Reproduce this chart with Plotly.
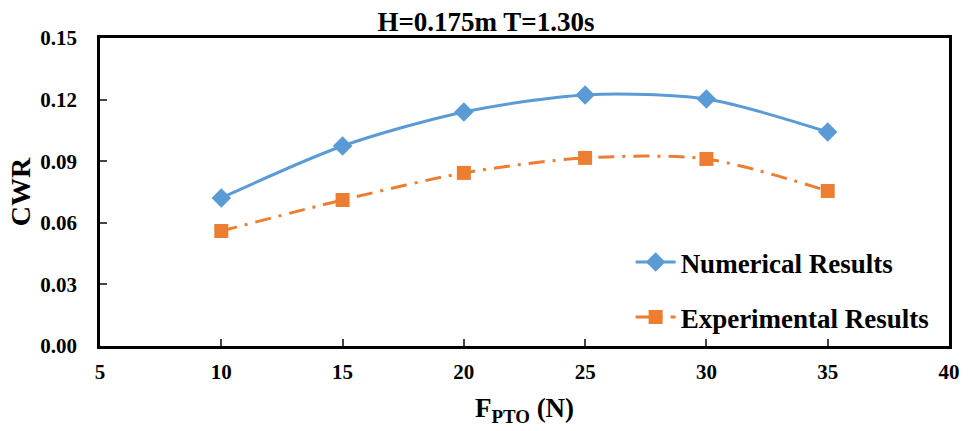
import plotly.graph_objects as go

f_pto = [10, 15, 20, 25, 30, 35]
numerical = [0.0721, 0.0974, 0.1140, 0.1223, 0.1203, 0.1042]
experimental = [0.0560, 0.0711, 0.0843, 0.0916, 0.0911, 0.0755]
y_ticks = [0.00, 0.03, 0.06, 0.09, 0.12, 0.15]
x_ticks = [5, 10, 15, 20, 25, 30, 35, 40]

FONT = "Liberation Serif, Times New Roman, serif"

fig = go.Figure()
fig.add_trace(go.Scatter(
    x=f_pto, y=numerical, name="Numerical Results", mode="lines+markers",
    line=dict(color="#5B9BD5", width=3, shape="spline", smoothing=0.8),
    marker=dict(symbol="diamond", size=15, color="#5B9BD5"),
    legendgroup="a"))
fig.add_trace(go.Scatter(
    x=f_pto, y=experimental, name="Experimental Results", mode="lines+markers",
    line=dict(color="#ED7D31", width=3, shape="spline", smoothing=0.8,
              dash="16px,8px,3px,8px"),
    marker=dict(symbol="square", size=14, color="#ED7D31"),
    legendgroup="b"))

fig.update_layout(
    width=972, height=431,
    margin=dict(l=100, r=13, t=38, b=85),
    paper_bgcolor="white", plot_bgcolor="white",
    font=dict(family=FONT, size=21, color="black", weight="bold"),
    title=dict(text="H=0.175m T=1.30s", x=0.5, xanchor="center", y=0.949, yanchor="middle",
               font=dict(family=FONT, size=27, color="black", weight="bold")),
    xaxis=dict(range=[5, 40], tickvals=x_ticks, ticks="inside", ticklen=7, tickwidth=2,
               showline=True, linewidth=2.5, linecolor="black", mirror=True, showgrid=False,
               zeroline=False, tickfont=dict(size=21), ticklabelstandoff=5,
               title=dict(text="F<sub>PTO</sub> (N)", font=dict(size=27), standoff=16)),
    yaxis=dict(range=[0, 0.15], tickvals=y_ticks, tickformat=".2f", ticks="inside", ticklen=7,
               tickwidth=2, showline=True, linewidth=2.5, linecolor="black", mirror=True,
               showgrid=False, zeroline=False, tickfont=dict(size=21), ticklabelstandoff=16,
               title=dict(text="CWR", font=dict(size=28), standoff=2)),
    legend=dict(x=0.625, y=0.182, xanchor="left", yanchor="middle", traceorder="grouped",
                tracegroupgap=17, font=dict(size=27, family=FONT, weight="bold"),
                bgcolor="rgba(0,0,0,0)", itemwidth=40),
    showlegend=True,
)

fig.write_html("out.html")
